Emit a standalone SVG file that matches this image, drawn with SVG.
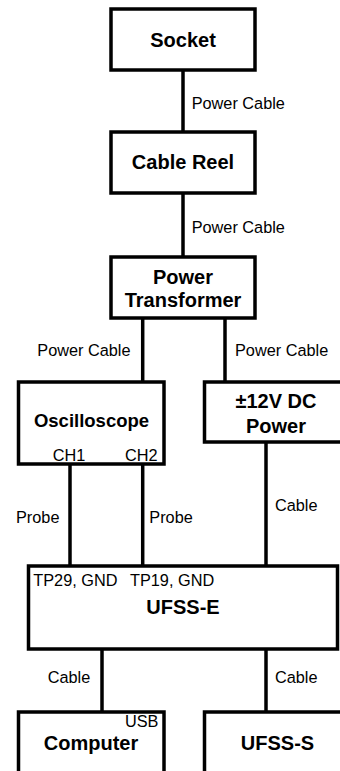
<svg xmlns="http://www.w3.org/2000/svg" width="340" height="771" viewBox="0 0 340 771">
<style>
.box{fill:#fff;stroke:#000;stroke-width:3.5}
.ln{stroke:#000;stroke-width:3.5;fill:none}
.t{font-family:"Liberation Sans",Arial,sans-serif;font-weight:bold;font-size:20px;fill:#000;text-anchor:middle}
.l{font-family:"Liberation Sans",Arial,sans-serif;font-size:16.3px;fill:#000}
</style>
<rect width="340" height="771" fill="#fff"/>
<g id="connectors">
<line class="ln" x1="183" y1="70" x2="183" y2="132"/>
<line class="ln" x1="183" y1="193" x2="183" y2="257"/>
<line class="ln" x1="142.7" y1="318" x2="142.7" y2="382"/>
<line class="ln" x1="225" y1="318" x2="225" y2="382"/>
<line class="ln" x1="70" y1="464" x2="70" y2="566"/>
<line class="ln" x1="142.7" y1="464" x2="142.7" y2="566"/>
<line class="ln" x1="266" y1="442" x2="266" y2="566"/>
<line class="ln" x1="102" y1="649" x2="102" y2="712"/>
<line class="ln" x1="266" y1="649" x2="266" y2="712"/>
<text class="l" x="191.7" y="108.7">Power Cable</text>
<text class="l" x="191.7" y="233.3">Power Cable</text>
<text class="l" x="37.3" y="356">Power Cable</text>
<text class="l" x="235" y="356">Power Cable</text>
<text class="l" x="16" y="523.3">Probe</text>
<text class="l" x="149.3" y="523.3">Probe</text>
<text class="l" x="275" y="511">Cable</text>
<text class="l" x="47.7" y="683.3">Cable</text>
<text class="l" x="275" y="683.3">Cable</text>
</g>
<g id="socket">
<rect class="box" x="111" y="9" width="144" height="61"/>
<text class="t" x="183" y="47">Socket</text>
</g>
<g id="cable-reel">
<rect class="box" x="111" y="132" width="144" height="61"/>
<text class="t" x="183" y="169">Cable Reel</text>
</g>
<g id="power-transformer">
<rect class="box" x="111" y="257" width="144" height="61"/>
<text class="t" x="183" y="284">Power</text>
<text class="t" x="183" y="306.5">Transformer</text>
</g>
<g id="oscilloscope">
<rect class="box" x="18.5" y="382" width="145.5" height="82"/>
<text class="t" x="91.5" y="427.3" style="font-size:18.5px">Oscilloscope</text>
<text class="l" x="52.7" y="460.7">CH1</text>
<text class="l" x="125" y="460.7">CH2</text>
</g>
<g id="dc-power">
<rect class="box" x="204.5" y="382" width="145" height="60"/>
<text class="t" x="276" y="408.3">±12V DC</text>
<text class="t" x="276" y="433.3">Power</text>
</g>
<g id="ufss-e">
<rect class="box" x="28.5" y="566" width="309" height="83"/>
<text class="l" x="33.3" y="585.5">TP29, GND</text>
<text class="l" x="130" y="585.5">TP19, GND</text>
<text class="t" x="183" y="614">UFSS-E</text>
</g>
<g id="computer">
<rect class="box" x="18.5" y="712" width="145.5" height="80"/>
<text class="l" x="125" y="726.7">USB</text>
<text class="t" x="91" y="750">Computer</text>
</g>
<g id="ufss-s">
<rect class="box" x="204.5" y="712" width="145" height="80"/>
<text class="t" x="277.5" y="750">UFSS-S</text>
</g>
</svg>
